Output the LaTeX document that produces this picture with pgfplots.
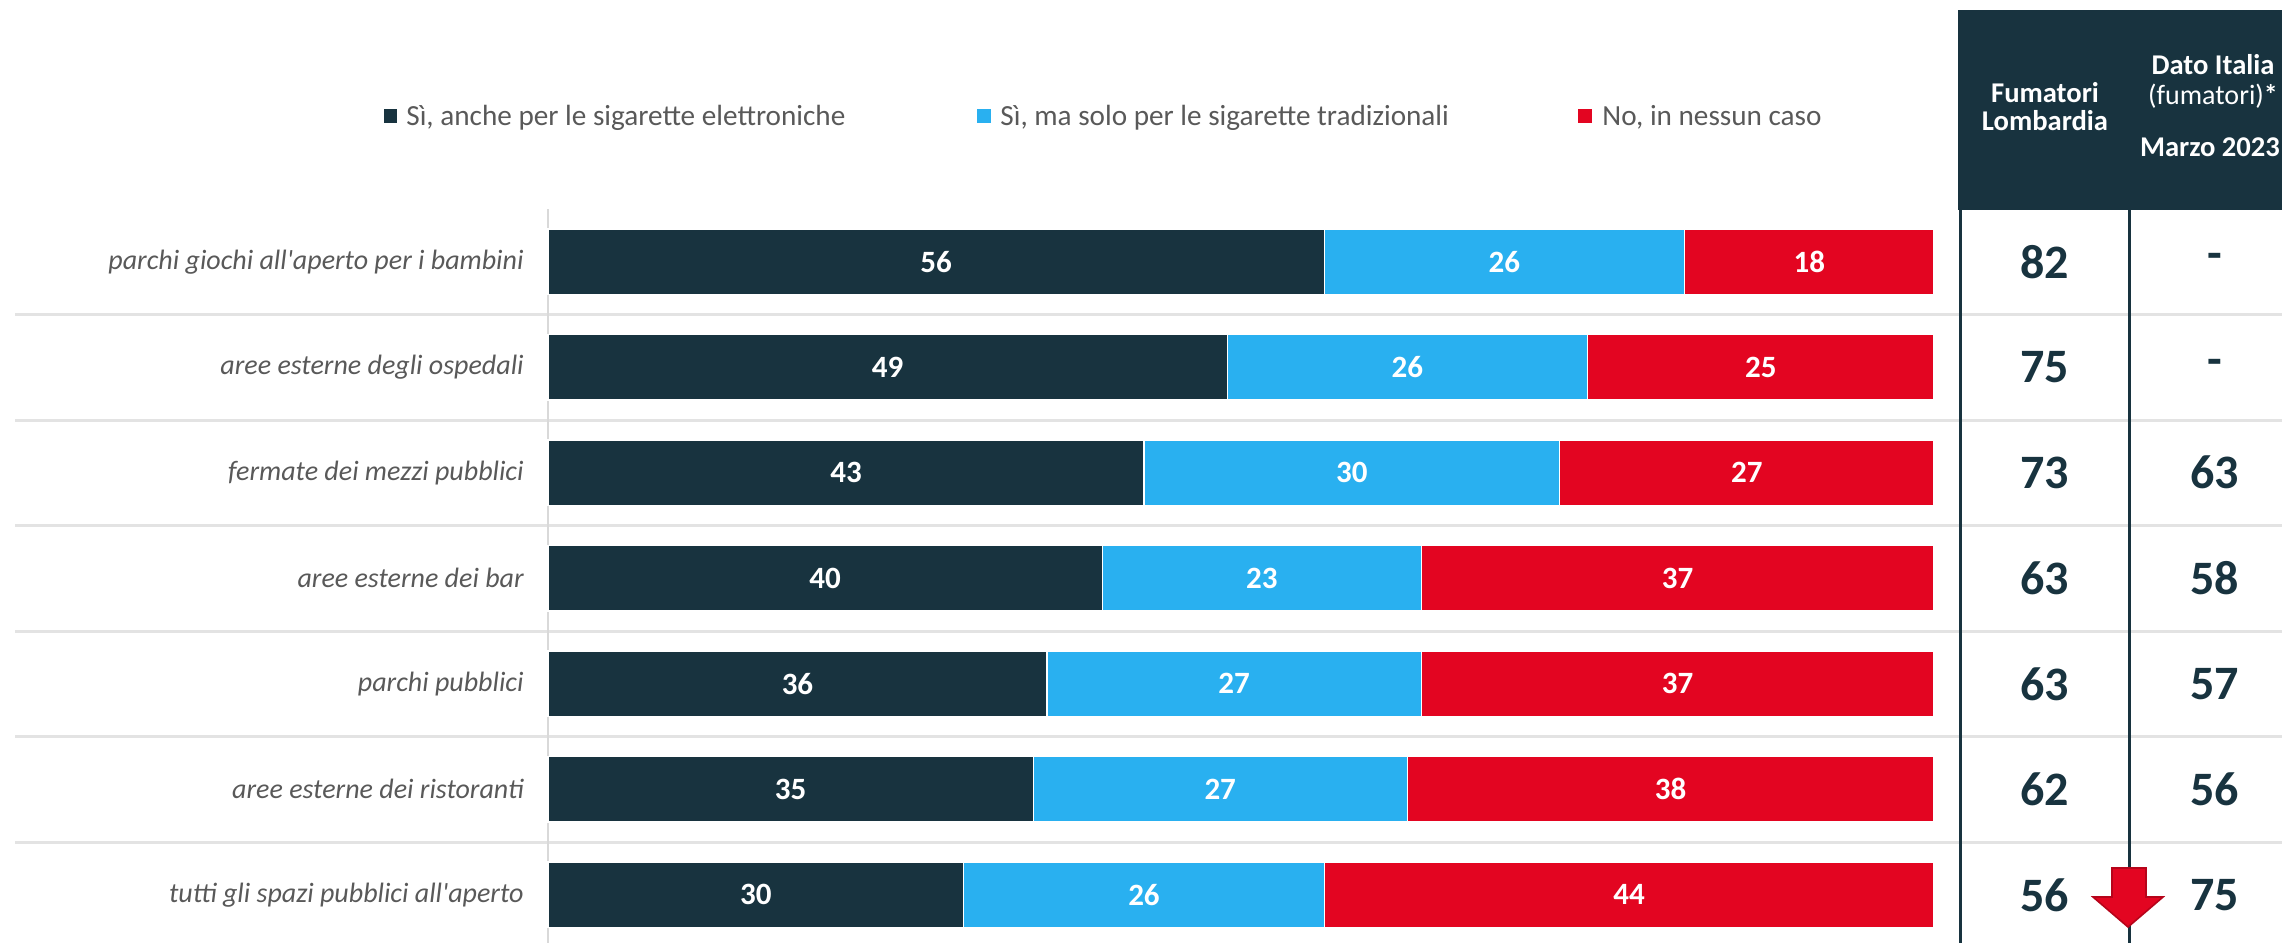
\documentclass[border=0pt]{standalone}
\usepackage{pgfplots}
\pgfplotsset{compat=1.18}
\usepackage{pgfplotstable}
\usepackage{fontspec}
\setmainfont{Carlito}
\newfontfamily\catfont{Carlito}
\definecolor{cdark}{HTML}{18333F}
\definecolor{cblue}{HTML}{29B0F0}
\definecolor{cred}{HTML}{E30521}
\definecolor{ctext}{HTML}{595959}
\definecolor{csep}{HTML}{E3E3E3}
\definecolor{caxis}{HTML}{D9D9D9}

\pgfplotstableread{
idx a b c lom ita
0 56 26 18 82 -
1 49 26 25 75 -
2 43 30 27 73 63
3 40 23 37 63 58
4 36 27 37 63 57
5 35 27 38 62 56
6 30 26 44 56 75
}\data

\begin{document}
\begin{tikzpicture}
% separators (px units)
\begin{scope}[x=0.5pt,y=-0.5pt]
  \foreach \yy in {314.5,420,525.5,631,736.5,842}{
    \draw[csep, line width=1.5pt] (15,\yy) -- (2282,\yy);
  }
\end{scope}

\begin{axis}[
  at={(274pt,-104.5pt)}, anchor=north west,
  width=693pt, height=366.9pt, scale only axis,
  xbar stacked, bar width=32.75pt,
  xmin=0, xmax=100, ymin=-0.5, ymax=6.455, y dir=reverse,
  axis x line=none, axis y line*=left,
  y axis line style={draw=caxis, line width=1pt},
  ytick={0,...,6},
  yticklabels={parchi giochi all'aperto per i bambini, aree esterne degli ospedali, fermate dei mezzi pubblici, aree esterne dei bar, parchi pubblici, aree esterne dei ristoranti, tutti gli spazi pubblici all'aperto},
  major tick length=0pt,
  yticklabel style={font=\catfont\itshape\fontsize{14}{16}\selectfont, text=ctext, inner sep=0pt, xshift=-12pt, anchor=east},
  clip=false,
]
\addplot[fill=cdark, draw=white, line width=0.6pt] table[x=a, y=idx]{\data};
\addplot[fill=cblue, draw=white, line width=0.6pt] table[x=b, y=idx]{\data};
\addplot[fill=cred, draw=white, line width=0.6pt] table[x=c, y=idx]{\data};
\end{axis}

\begin{axis}[
  at={(274pt,-104.5pt)}, anchor=north west,
  width=693pt, height=366.9pt, scale only axis,
  xmin=0, xmax=100, ymin=-0.5, ymax=6.455, y dir=reverse,
  hide axis, clip=false,
  nodes near coords, point meta=explicit symbolic,
  nodes near coords align={center},
  every node near coord/.append style={font=\bfseries\fontsize{15.5}{17}\selectfont, text=white, inner sep=0pt},
]
\addplot[draw=none] table[x expr=\thisrow{a}/2, y=idx, meta=a]{\data};
\addplot[draw=none] table[x expr=\thisrow{a}+\thisrow{b}/2, y=idx, meta=b]{\data};
\addplot[draw=none] table[x expr=\thisrow{a}+\thisrow{b}+\thisrow{c}/2, y=idx, meta=c]{\data};
\addplot[draw=none, every node near coord/.append style={font=\bfseries\fontsize{24}{26}\selectfont, text=cdark}] table[x expr=108, y=idx, meta=lom]{\data};
\addplot[draw=none, every node near coord/.append style={font=\bfseries\fontsize{24}{26}\selectfont, text=cdark}] table[x expr=120.27, y=idx, meta=ita]{\data};
\end{axis}

\begin{scope}[x=0.5pt,y=-0.5pt]
  % header box
  \fill[cdark] (1958,10) rectangle (2290,210);
  \draw[cdark!75!white, line width=0.5pt] (2130,10) -- (2130,210);
  \draw[cdark, line width=1.5pt] (1960,10) -- (1960,943);
  \draw[cdark, line width=1.5pt] (2129,10) -- (2129,943);
  \node[anchor=base, text=white, font=\bfseries\fontsize{14.3}{16}\selectfont] at (2045,102) {Fumatori};
  \node[anchor=base, text=white, font=\bfseries\fontsize{14.3}{16}\selectfont] at (2045,130) {Lombardia};
  \node[anchor=base, text=white, font=\bfseries\fontsize{14.3}{16}\selectfont] at (2213,74) {Dato Italia};
  \node[anchor=base, text=white, font=\fontsize{14}{16}\selectfont] at (2213,104) {(fumatori)\textbf{*}};
  \node[anchor=base, text=white, font=\bfseries\fontsize{14.3}{16}\selectfont] at (2210,156) {Marzo 2023};
  % legend
  \fill[cdark] (384,109) rectangle (397,123);
  \node[anchor=base west, inner sep=0pt, text=ctext, font=\fontsize{14.6}{16}\selectfont] at (406,125) {Sì, anche per le sigarette elettroniche};
  \fill[cblue] (977,109) rectangle (991,123);
  \node[anchor=base west, inner sep=0pt, text=ctext, font=\fontsize{14.6}{16}\selectfont] at (1000,125) {Sì, ma solo per le sigarette tradizionali};
  \fill[cred] (1578,109) rectangle (1592,123);
  \node[anchor=base west, inner sep=0pt, text=ctext, font=\fontsize{14.6}{16}\selectfont] at (1602,125) {No, in nessun caso};
  % arrow
  \filldraw[fill=cred, draw=cred!80!black, line width=0.8pt] (2112,868) -- (2146,868) -- (2146,897) -- (2163,897) -- (2128,927) -- (2093,897) -- (2112,897) -- cycle;
  \pgfresetboundingbox
  \path (0,0) rectangle (2282,943);
\end{scope}
\end{tikzpicture}
\end{document}
